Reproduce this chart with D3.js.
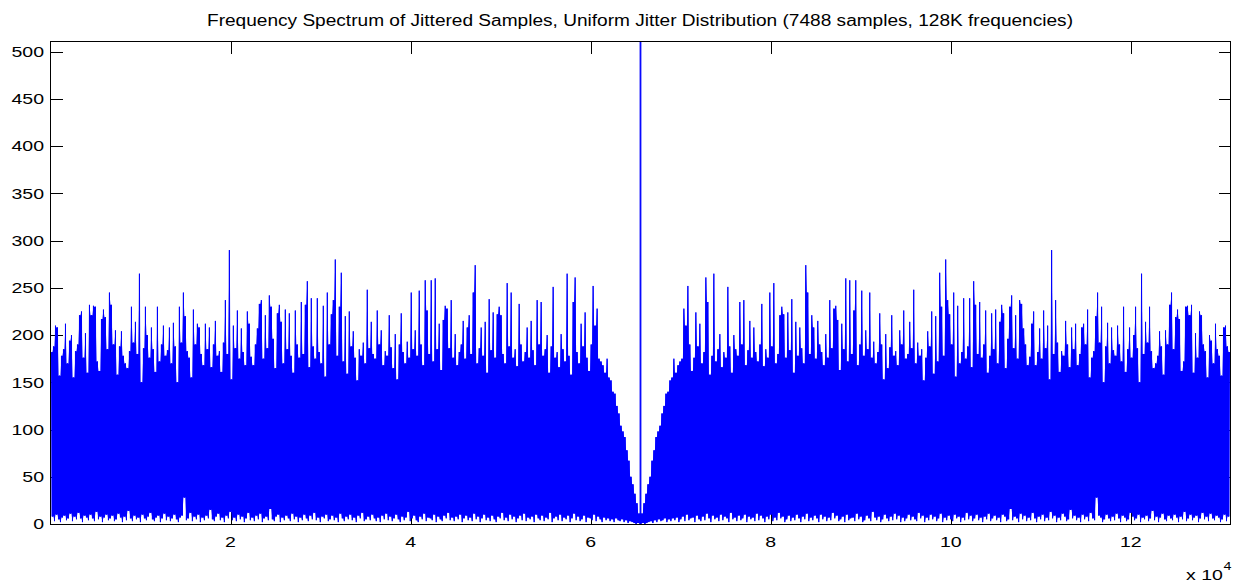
<!DOCTYPE html>
<html><head><meta charset="utf-8">
<script src="https://cdn.jsdelivr.net/npm/d3@7"></script>
<style>
body{margin:0;background:#fff;}
svg{display:block;}
text{font-family:"Liberation Sans",Arial,Helvetica,sans-serif;fill:#000;}
</style>
</head><body>
<svg id="c" width="1238" height="583"></svg>
<script>
// ---------------- data ----------------
const titleText = "Frequency Spectrum of Jittered Samples, Uniform Jitter Distribution (7488 samples, 128K frequencies)";
const xTicks = [20000, 40000, 60000, 80000, 100000, 120000];
const xTickLabels = ["2", "4", "6", "8", "10", "12"];
const yTicks = [0, 50, 100, 150, 200, 250, 300, 350, 400, 450, 500];
const nFreq = 131072;        // 128K frequencies
const centerBin = 65536;     // central (DC) bin
const centerPeak = 7488;     // off-scale central spike (clipped)
const binStep = 222;         // bins between successive read-off local maxima

// local maxima, left half (bins 111, 333, 555, ...)
const hiLeft = [
182,188,210,208,157,178,185,212,170,194,200,155,183,190,221,225,176,202,160,232,
221,231,230,172,162,217,227,219,185,245,232,190,205,158,188,204,178,170,165,183,
230,192,214,180,265,150,186,230,200,176,208,185,161,230,172,190,210,178,184,208,
170,213,188,150,230,192,245,220,183,176,155,227,190,212,208,180,168,212,185,208,
166,190,215,178,183,161,192,237,180,290,153,210,186,226,175,207,182,168,225,212,
177,168,190,207,233,237,175,221,186,242,230,196,165,223,232,214,170,227,185,223,
178,160,226,190,176,235,180,232,257,166,239,188,175,239,182,170,231,156,245,190,
222,237,280,178,230,266,172,220,159,225,188,204,176,152,185,178,192,170,248,186,
214,180,175,226,190,205,168,183,178,221,187,165,201,153,190,223,182,170,193,176,
245,185,205,178,247,190,168,258,226,180,258,172,260,185,212,163,216,231,228,186,
237,176,201,168,182,190,215,175,208,221,180,245,274,170,186,208,178,214,160,238,
184,224,176,222,230,221,180,170,255,188,245,176,185,167,233,190,172,182,208,176,
215,184,168,237,190,235,178,185,200,160,188,251,176,182,166,201,185,172,265,178,
158,235,261,182,170,212,188,224,176,162,190,252,210,228,175,172,168,160,175,155,
152,140,138,125,117,104,98,92,78,67,50,42,32,22,11
];
// local minima, left half (bins 222, 444, 666, ...)
const loLeft = [
8,3,10,5,2,7,9,4,6,11, 3,8,5,12,6,2,9,7,4,10, 6,3,13,5,8,2,7,10,4,6,
9,3,5,11,7,2,8,4,14,6, 3,9,5,7,2,10,6,4,8,12, 5,3,7,9,2,6,11,4,8,3,
6,10,5,2,7,9,28,4,6,12, 3,8,5,10,2,7,4,9,6,15, 5,3,8,11,4,7,2,9,6,13,
4,7,3,10,5,8,2,6,12,4, 7,3,9,5,11,2,6,8,4,16, 5,3,8,10,2,7,4,9,6,3,
11,5,8,2,7,4,10,6,3,9, 5,12,4,7,2,8,6,10,3,5, 9,4,7,2,11,6,3,8,5,10,
4,7,2,9,6,12,3,5,8,4, 10,6,3,7,2,9,5,11,4,8, 3,6,10,5,2,8,4,7,13,3,
6,9,4,2,8,5,11,3,7,6, 4,10,2,8,5,3,9,6,12,4, 7,3,8,5,10,2,6,9,4,7,
3,11,5,8,2,6,10,4,7,3, 9,5,2,8,6,12,4,7,3,10, 5,8,2,6,9,4,11,3,7,5,
8,2,10,6,4,9,3,7,5,12, 2,6,8,4,10,3,7,5,9,2, 6,11,4,8,3,5,9,2,7,6,
4,10,3,8,5,2,7,4,6,3, 5,2,6,4,3,5,2,4,1,3, 2,1,0,1,0
];

// ---------------- build series (spectrum of a real signal is symmetric about the centre bin) ----------------
const left = [];
hiLeft.forEach((v, k) => {
  left.push({f: binStep / 2 + k * binStep, v: v, hi: true});
  left.push({f: binStep + k * binStep, v: loLeft[k], hi: false});
});
const right = left.map(d => ({f: nFreq - d.f, v: d.v, hi: d.hi})).reverse();
const series = left.concat([{f: centerBin, v: centerPeak, hi: true}], right);

// envelope of the densely drawn trace: filled between the local minima and the lower of the neighbouring maxima
const env = series.map((d, i) => {
  const p = series[i - 1], n = series[i + 1];
  if (d.hi) {
    const lows = [p, n].filter(Boolean).map(e => e.v);
    return {f: d.f, top: d.v, bot: Math.max(...lows)};
  } else {
    const highs = [p, n].filter(Boolean).map(e => e.v);
    return {f: d.f, top: Math.min(...highs), bot: d.v};
  }
});

// ---------------- chart ----------------
const svg = d3.select("#c");
const L = 50.5, R = 1230.5, T = 41.5, B = 524;
const x = d3.scaleLinear().domain([1, nFreq]).range([L, R]);
const y = d3.scaleLinear().domain([0, 510.8]).range([B, T]);
const tickLen = 12;
const stretchK = 1.3;

function stretch(sel, k) {
  sel.each(function () {
    const len = this.getComputedTextLength();
    d3.select(this).attr("textLength", len * k).attr("lengthAdjust", "spacingAndGlyphs");
  });
}

svg.append("defs").append("clipPath").attr("id", "plotclip")
  .append("rect").attr("x", 50).attr("y", 41).attr("width", 1181).attr("height", 484);

// ticks (under the data, like MATLAB's default layer)
const tk = svg.append("g").attr("stroke", "#000").attr("stroke-width", 1).attr("shape-rendering", "crispEdges");
yTicks.forEach(v => {
  const yy = Math.round(y(v)) + 0.5;
  tk.append("line").attr("x1", L).attr("x2", L + tickLen).attr("y1", yy).attr("y2", yy);
  tk.append("line").attr("x1", R - tickLen).attr("x2", R).attr("y1", yy).attr("y2", yy);
});
xTicks.forEach(v => {
  const xx = Math.round(x(v)) + 0.5;
  tk.append("line").attr("x1", xx).attr("x2", xx).attr("y1", B).attr("y2", B - tickLen);
  tk.append("line").attr("x1", xx).attr("x2", xx).attr("y1", T).attr("y2", T + tickLen);
});

const plot = svg.append("g").attr("clip-path", "url(#plotclip)");
// solid body
const area = d3.area().x(d => x(d.f)).y0(d => y(d.bot)).y1(d => y(d.top));
plot.append("path").datum(env).attr("d", area).attr("fill", "#0000ff").attr("stroke", "none");
// spectrum trace
const line = d3.line().x(d => x(d.f)).y(d => y(d.v));
plot.append("path").datum(series)
  .attr("d", line)
  .attr("fill", "none")
  .attr("stroke", "#0000ff")
  .attr("stroke-width", 1);

// box
svg.append("rect").attr("x", 50.5).attr("y", 41.5).attr("width", R - 50.5).attr("height", 483)
  .attr("fill", "none").attr("stroke", "#000").attr("stroke-width", 1).attr("shape-rendering", "crispEdges");

// y tick labels
const yl = svg.append("g").selectAll("text").data(yTicks).join("text")
  .attr("x", 44).attr("y", d => y(d) + 5.3)
  .attr("text-anchor", "end").attr("font-size", 15)
  .text(d => d);
stretch(yl, stretchK);

// x tick labels
const xl = svg.append("g").selectAll("text").data(xTicks).join("text")
  .attr("x", d => x(d)).attr("y", 547)
  .attr("text-anchor", "middle").attr("font-size", 15)
  .text((d, i) => xTickLabels[i]);
stretch(xl, stretchK);

// exponent label
const ex = svg.append("text").attr("x", 1186).attr("y", 580).attr("font-size", 15).text("x 10");
stretch(ex, stretchK);
const ex4 = svg.append("text").attr("x", 1223.5).attr("y", 570).attr("font-size", 11).text("4");
stretch(ex4, stretchK);

// title
svg.append("text").attr("x", 640).attr("y", 26).attr("text-anchor", "middle")
  .attr("font-size", 16).attr("textLength", 866).attr("lengthAdjust", "spacingAndGlyphs")
  .text(titleText);
</script>
</body></html>
